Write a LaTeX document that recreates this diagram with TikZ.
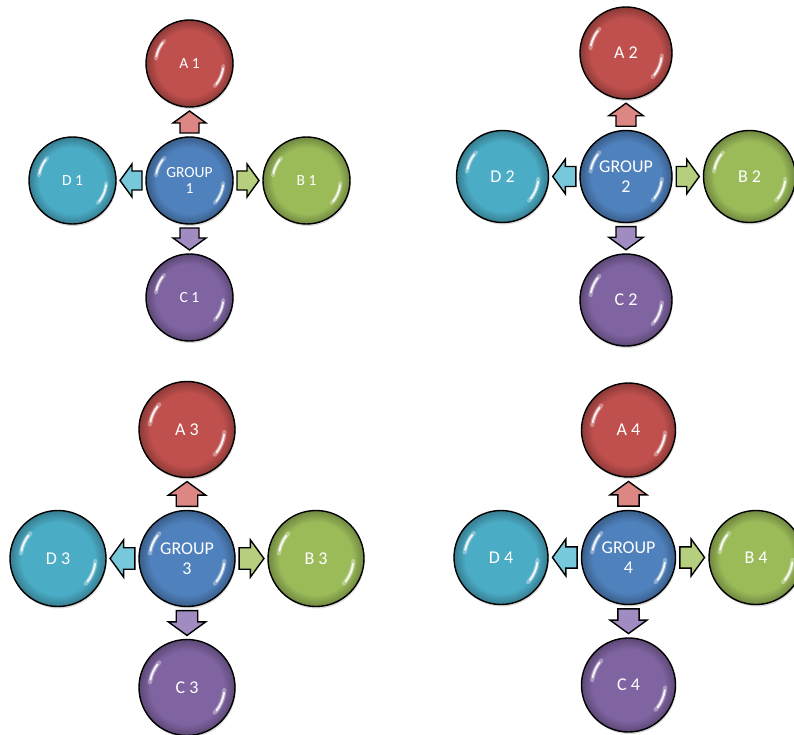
\documentclass[tikz,border=0pt]{standalone}
\usepackage{fontspec}
\setmainfont{Carlito}
\usetikzlibrary{calc,shadows}
\definecolor{cred}{HTML}{C0504D}
\definecolor{cgreen}{HTML}{9BBB59}
\definecolor{cpurple}{HTML}{8064A2}
\definecolor{cblue}{HTML}{4F81BD}
\definecolor{ccyan}{HTML}{4BACC6}
\definecolor{ared}{HTML}{DC8784}
\definecolor{agreen}{HTML}{B5CF7E}
\definecolor{apurple}{HTML}{A18CC2}
\definecolor{acyan}{HTML}{78C8DB}
\colorlet{glossin}{cblue}
\colorlet{glossout}{cblue}
\pgfdeclareradialshading[glossin,glossout]{gloss}{\pgfpointorigin}{color(0bp)=(glossin); color(19bp)=(glossin); color(25bp)=(glossout); color(50bp)=(glossout)}
\tikzset{
  ball/.style={circle, draw=black, line width=1.4pt, inner sep=0pt, text=white,
    /utils/exec={\colorlet{glossin}{#1}\colorlet{glossout}{#1!72!black}},
    fill=#1, shading=gloss,
    drop shadow={opacity=0.3, shadow xshift=0.8pt, shadow yshift=-2pt}},
  hl/.style={white, line cap=round},
  barrowstyle/.style={draw=black, line width=1.4pt, line join=miter, fill=#1},
  barrow/.pic={\path[pic actions] (-11,-9.5) -- (-1,-9.5) -- (-1,-16.5) -- (11,0) -- (-1,16.5) -- (-1,9.5) -- (-11,9.5) -- cycle;}
}
% #1 id, #2 cx, #3 cy (image), #4 radius, #5 distance, #6 font size, #7 baselineskip, #8 arrow scale
\newcommand{\grp}[8]{%
  \begin{scope}[shift={(#2,-#3)}, font=\fontsize{#6}{#7}\selectfont]
    \node[ball=cblue, minimum size=2*#4, align=center] (g#1) at (0,0) {GROUP\\#1};
    \node[ball=cred, minimum size=2*#4] (a#1) at (0,#5) {A #1};
    \node[ball=cgreen, minimum size=2*#4] (b#1) at (#5,0) {B #1};
    \node[ball=cpurple, minimum size=2*#4] (c#1) at (0,-#5) {C #1};
    \node[ball=ccyan, minimum size=2*#4] (d#1) at (-#5,0) {D #1};
    \foreach \n in {g,a,b,c,d}{
      \draw[hl, line width=0.09*#4, opacity=0.35] (\n#1.center) ++(138:0.78*#4) arc[start angle=138, end angle=172, radius=0.78*#4];
      \draw[hl, line width=0.04*#4, opacity=0.9] (\n#1.center) ++(142:0.78*#4) arc[start angle=142, end angle=168, radius=0.78*#4];
      \draw[hl, line width=0.09*#4, opacity=0.35] (\n#1.center) ++(-4:0.78*#4) arc[start angle=-4, end angle=-42, radius=0.78*#4];
      \draw[hl, line width=0.04*#4, opacity=0.9] (\n#1.center) ++(-8:0.78*#4) arc[start angle=-8, end angle=-38, radius=0.78*#4];
    }
    \pic[barrowstyle=ared, rotate=90, scale=#8] at ($(g#1.north)!0.5!(a#1.south)$) {barrow};
    \pic[barrowstyle=agreen, scale=#8] at ($(g#1.east)!0.5!(b#1.west)$) {barrow};
    \pic[barrowstyle=apurple, rotate=-90, scale=#8] at ($(g#1.south)!0.5!(c#1.north)$) {barrow};
    \pic[barrowstyle=acyan, rotate=180, scale=#8] at ($(g#1.west)!0.5!(d#1.east)$) {barrow};
  \end{scope}}
\begin{document}
\begin{tikzpicture}[x=1pt,y=1pt]
  \useasboundingbox (0,-735) rectangle (794,0);
  \grp{1}{189.5}{180.5}{43.5}{117}{15.5}{16.5}{1}
  \grp{2}{626}{176.5}{46}{123.5}{18}{20}{1.05}
  \grp{3}{187}{558.5}{48}{129}{18}{20}{1.13}
  \grp{4}{628.5}{557.5}{47}{127.5}{18}{20}{1.12}
\end{tikzpicture}
\end{document}
